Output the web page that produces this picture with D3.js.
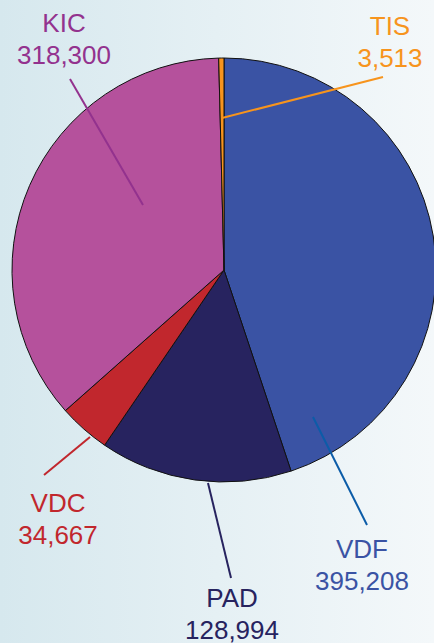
<!DOCTYPE html>
<html>
<head>
<meta charset="utf-8">
<script src="https://cdn.jsdelivr.net/npm/d3@7/dist/d3.min.js"></script>
<style>
html,body{margin:0;padding:0;overflow:hidden;}
svg{display:block;}
</style>
</head>
<body>
<svg id="chart" width="434" height="643"></svg>
<script>
// Data
const categories = ["VDF", "PAD", "VDC", "KIC", "TIS"];
const values = [395208, 128994, 34667, 318300, 3513];
const valueLabels = ["395,208", "128,994", "34,667", "318,300", "3,513"];

// Styles
const sliceColors = ["#3a53a4", "#27235f", "#c1272d", "#b5519c", "#f7941d"];
const labelColors = ["#3a53a4", "#27235f", "#c1272d", "#93328e", "#f7941d"];
const lineColors = ["#0b5ca8", "#27235f", "#c1272d", "#93328e", "#f7941d"];

// Layout for annotations (label centre x, first baseline y; leader line endpoints)
const labelLayout = [
  {x: 362, y: 558, line: [[313, 417], [367, 525]]},
  {x: 232, y: 607, line: [[208, 483], [231, 578]]},
  {x: 58,  y: 512, line: [[90, 437], [44, 475]]},
  {x: 64,  y: 32,  line: [[143, 205], [70, 79]]},
  {x: 390, y: 35,  line: [[222, 118], [383, 77]]}
];

const W = 434, H = 643;
const cx = 224, cy = 270, R = 212;

const svg = d3.select("#chart");
const defs = svg.append("defs");
const grad = defs.append("linearGradient").attr("id", "bg").attr("x1", "0%").attr("x2", "100%").attr("y1", "0%").attr("y2", "0%");
grad.append("stop").attr("offset", "0%").attr("stop-color", "#d6e8ee");
grad.append("stop").attr("offset", "100%").attr("stop-color", "#f4f8fa");
svg.append("rect").attr("width", W).attr("height", H).attr("fill", "url(#bg)");

const pie = d3.pie().sort(null).value(d => d.value);
const data = categories.map((c, i) => ({name: c, value: values[i], i}));
const arcs = pie(data);
const arc = d3.arc().innerRadius(0).outerRadius(R);

const g = svg.append("g").attr("transform", `translate(${cx},${cy})`);
g.selectAll("path.slice").data(arcs).enter().append("path")
  .attr("class", "slice")
  .attr("d", arc)
  .attr("fill", d => sliceColors[d.data.i])
  .attr("stroke", "#111")
  .attr("stroke-width", 1)
  .attr("stroke-linejoin", "round");

// leader lines
svg.selectAll("line.leader").data(data).enter().append("line")
  .attr("class", "leader")
  .attr("x1", d => labelLayout[d.i].line[0][0])
  .attr("y1", d => labelLayout[d.i].line[0][1])
  .attr("x2", d => labelLayout[d.i].line[1][0])
  .attr("y2", d => labelLayout[d.i].line[1][1])
  .attr("stroke", d => lineColors[d.i])
  .attr("stroke-width", 2);

// labels
const labels = svg.selectAll("text.lbl").data(data).enter().append("text")
  .attr("class", "lbl")
  .attr("text-anchor", "middle")
  .attr("font-family", "'Liberation Sans', Arial, sans-serif")
  .attr("font-size", 26)
  .attr("fill", d => labelColors[d.i]);
labels.append("tspan")
  .attr("x", d => labelLayout[d.i].x)
  .attr("y", d => labelLayout[d.i].y)
  .text(d => d.name);
labels.append("tspan")
  .attr("x", d => labelLayout[d.i].x)
  .attr("y", d => labelLayout[d.i].y + 32)
  .text(d => valueLabels[d.i]);
</script>
</body>
</html>
